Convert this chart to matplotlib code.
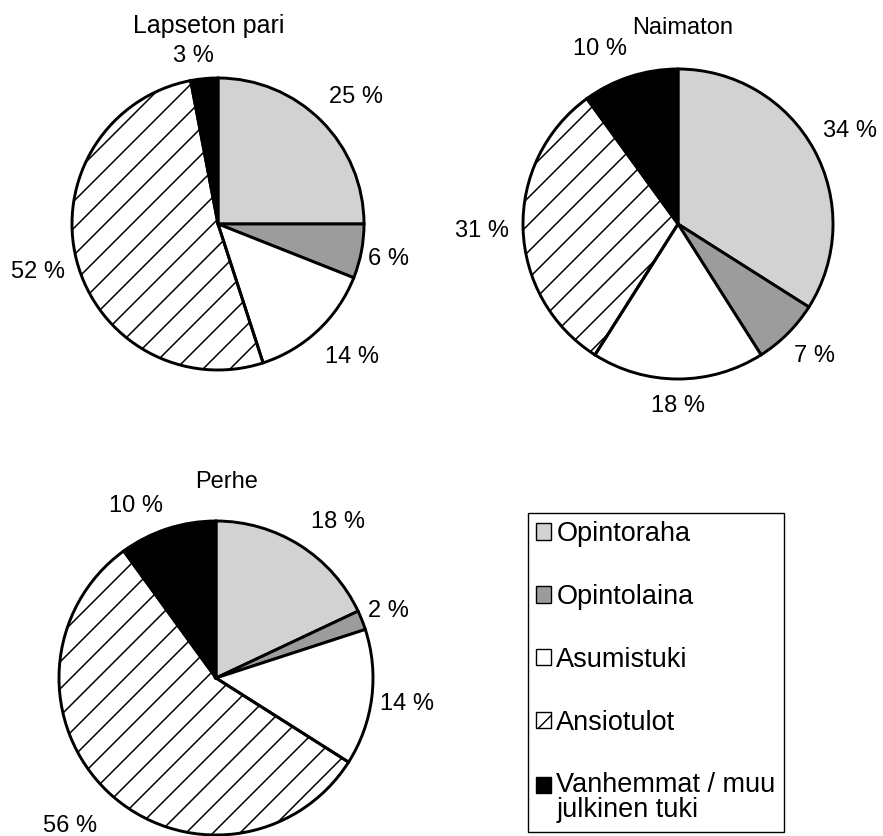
import numpy as np
import matplotlib
matplotlib.use("Agg")
import matplotlib.pyplot as plt
from matplotlib.patches import Patch

plt.rcParams['font.family'] = ['Liberation Sans', 'DejaVu Sans']

# ---- data ----
categories = ['Opintoraha', 'Opintolaina', 'Asumistuki', 'Ansiotulot',
              'Vanhemmat / muu\njulkinen tuki']
lapseton_pari = [25, 6, 14, 52, 3]
naimaton = [34, 7, 18, 31, 10]
perhe = [18, 2, 14, 56, 10]
titles = ['Lapseton pari', 'Naimaton', 'Perhe']

# ---- styling / layout ----
W, H = 883, 836
colors = ['#d2d2d2', '#9c9c9c', 'white', (1, 1, 1, 0), 'black']
legend_hatches = ['', '', '', '/', '']

# pie geometry (pixels, y measured from top)
pies = [
    dict(vals=lapseton_pari, title=titles[0], cx=218, cy=224, r=146,
         title_pos=(209, 33), title_size=18,
         label_pos=[(356, 103), (388, 265), (352, 363), (38, 278), (193, 62)]),
    dict(vals=naimaton, title=titles[1], cx=678, cy=224, r=155,
         title_pos=(683, 34), title_size=17,
         label_pos=[(850, 137), (815, 362), (678, 412), (482, 237), (600, 55)]),
    dict(vals=perhe, title=titles[2], cx=216, cy=678, r=157,
         title_pos=(227, 488), title_size=17,
         label_pos=[(338, 528), (388, 617), (407, 710), (70, 832), (136, 512)]),
]


def py(y):
    return H - y


fig = plt.figure(figsize=(W / 100, H / 100), dpi=100)
ax = fig.add_axes([0, 0, 1, 1])

for p in pies:
    cx, cy, r = p['cx'], py(p['cy']), p['r']
    wedges, _ = ax.pie(p['vals'], center=(cx, cy), radius=r, startangle=90,
                       counterclock=False, colors=colors,
                       wedgeprops=dict(edgecolor='black', linewidth=2.1))
    # diagonal hatching for "Ansiotulot"
    w = wedges[3]
    step = 27
    xs = np.array([cx - 2 * r, cx + 2 * r])
    for c in np.arange(-2 * r, 2 * r, step):
        ln, = ax.plot(xs, cy + (xs - cx) + c, color='black', lw=1.1,
                      zorder=0.5, solid_capstyle='butt')
        ln.set_clip_path(w)
    # title
    tx, ty = p['title_pos']
    ax.text(tx, py(ty), p['title'], ha='center', va='baseline',
            fontsize=p['title_size'])
    # percentage labels
    for v, (lx, ly) in zip(p['vals'], p['label_pos']):
        ax.text(lx, py(ly), f'{v} %', ha='center', va='baseline', fontsize=17)

ax.set_xlim(0, W)
ax.set_ylim(0, H)
ax.set_aspect('equal')
ax.axis('off')

handles = [Patch(facecolor=('white' if c == (1, 1, 1, 0) else c),
                 edgecolor='black', linewidth=1.0, hatch=h)
           for c, h in zip(colors, legend_hatches)]
leg = fig.legend(handles, categories, loc='upper left',
                 bbox_to_anchor=(528 / W, 1 - 513 / H),
                 frameon=True, fancybox=False, edgecolor='black',
                 framealpha=1, borderaxespad=0,
                 prop=dict(size=19.5),
                 handlelength=0.55, handleheight=0.55, handletextpad=0.2,
                 labelspacing=1.36, borderpad=0.3)
leg.get_frame().set_linewidth(1.0)
leg.get_texts()[-1].set_linespacing(0.95)
# align the last marker with the first line of its two-line label
last = leg.legend_handles[-1]
last.set_y(last.get_y() + 9.5)

fig.savefig('out.png', dpi=100)
